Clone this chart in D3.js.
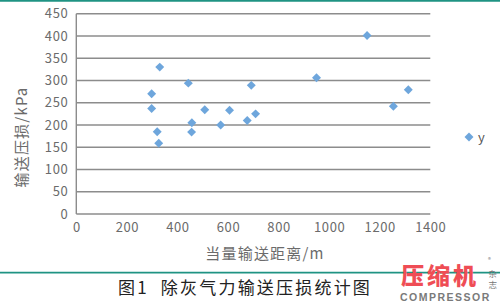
<!DOCTYPE html>
<html>
<head>
<meta charset="utf-8">
<script src="https://cdn.jsdelivr.net/npm/d3@7"></script>
<style>
  html, body { margin: 0; padding: 0; background: #fff; }
  svg { display: block; }
</style>
</head>
<body>
<svg id="chart" width="500" height="301"></svg>
<script>
// Equivalent conveying distance (m) and conveying pressure loss (kPa)
const distance = [330, 298, 298, 320, 326, 443, 457, 456, 508, 571, 606, 692, 676, 709, 950, 1150, 1254, 1313];
const pressureLoss = [330, 270, 237, 185, 159, 294, 205, 184, 234, 200, 233, 289, 210, 225, 306, 401, 242, 279];
const xTicks = [0, 200, 400, 600, 800, 1000, 1200, 1400];
const yTicks = [0, 50, 100, 150, 200, 250, 300, 350, 400, 450];
const seriesName = "y";

const svg = d3.select("#chart");
const plot = { left: 76.3, right: 430.3, top: 13.7, bottom: 214 };
const fontFam = "'Noto Sans CJK SC', 'Noto Sans', sans-serif";

const x = d3.scaleLinear().domain([0, 1400]).range([plot.left, plot.right]);
const y = d3.scaleLinear().domain([0, 450]).range([plot.bottom, plot.top]);

// frame rules (teal)
svg.append("line").attr("x1", 0).attr("x2", 500).attr("y1", 0.8).attr("y2", 0.8)
  .attr("stroke", "#1f9383").attr("stroke-width", 2);
svg.append("line").attr("x1", 0).attr("x2", 500).attr("y1", 272.6).attr("y2", 272.6)
  .attr("stroke", "#1f9383").attr("stroke-width", 1.6);

// horizontal gridlines
svg.append("g").selectAll("line").data(yTicks).join("line")
  .attr("x1", plot.left).attr("x2", plot.right)
  .attr("y1", d => y(d)).attr("y2", d => y(d))
  .attr("stroke", "#8c8c8c").attr("stroke-width", 1.4);

// y axis line
svg.append("line").attr("x1", plot.left).attr("x2", plot.left)
  .attr("y1", plot.top).attr("y2", plot.bottom)
  .attr("stroke", "#8c8c8c").attr("stroke-width", 1.4);

// y axis labels
const yAxis = d3.axisLeft(y).tickValues(yTicks).tickFormat(d3.format("d")).tickSize(0).tickPadding(8);
const gy = svg.append("g").attr("transform", `translate(${plot.left},0)`).call(yAxis);
gy.select(".domain").remove();
gy.selectAll("text").attr("font-family", fontFam).attr("font-size", 13)
  .attr("fill", "#6b6b6b").attr("letter-spacing", 0.6);

// x axis labels
const xAxis = d3.axisBottom(x).tickValues(xTicks).tickFormat(d3.format("d")).tickSize(0).tickPadding(9);
const gx = svg.append("g").attr("transform", `translate(0,${plot.bottom})`).call(xAxis);
gx.select(".domain").remove();
gx.selectAll("text").attr("font-family", fontFam).attr("font-size", 13)
  .attr("fill", "#6b6b6b").attr("letter-spacing", 0.6);

// axis titles
svg.append("text").attr("x", 265).attr("y", 259).attr("text-anchor", "middle")
  .attr("font-family", fontFam).attr("font-size", 15).attr("fill", "#6b6b6b")
  .attr("letter-spacing", 1.2).text("当量输送距离/m");
svg.append("text").attr("transform", "translate(27,137) rotate(-90)")
  .attr("text-anchor", "middle").attr("font-family", fontFam).attr("font-size", 15)
  .attr("fill", "#6b6b6b").attr("letter-spacing", 1.2).text("输送压损/kPa");

// data points (diamonds)
const diamond = d3.symbol().type(d3.symbolSquare).size(40);
const pts = distance.map((d, i) => ({ d, p: pressureLoss[i] }));
svg.append("g").selectAll("path").data(pts).join("path")
  .attr("d", diamond)
  .attr("transform", v => `translate(${x(v.d)},${y(v.p)}) rotate(45)`)
  .attr("fill", "#6ea6dc");

// legend
svg.append("path").attr("d", diamond).attr("transform", "translate(469,137) rotate(45)")
  .attr("fill", "#6ea6dc");
svg.append("text").attr("x", 478).attr("y", 142).attr("font-family", fontFam)
  .attr("font-size", 13).attr("fill", "#555").text(seriesName);

// caption
svg.append("text").attr("x", 118).attr("y", 294).attr("font-family", fontFam)
  .attr("font-size", 17).attr("fill", "#222").attr("letter-spacing", 2.2)
  .attr("xml:space", "preserve").text("图1  除灰气力输送压损统计图");

// publication mark
svg.append("text").attr("x", 401).attr("y", 284).attr("font-family", fontFam)
  .attr("font-size", 23).attr("font-weight", 900).attr("fill", "#ef4d55")
  .attr("letter-spacing", 3).text("压缩机");
svg.append("text").attr("x", 488).attr("y", 262).attr("font-family", fontFam)
  .attr("font-size", 6).attr("fill", "#777").text("®");
svg.append("text").attr("x", 488.5).attr("y", 277).attr("font-family", fontFam)
  .attr("font-size", 8.5).attr("fill", "#777").text("杂");
svg.append("text").attr("x", 488.5).attr("y", 288).attr("font-family", fontFam)
  .attr("font-size", 8.5).attr("fill", "#777").text("志");
svg.append("text").attr("x", 400).attr("y", 300.5).attr("font-family", "'Liberation Sans', Arial, sans-serif")
  .attr("font-size", 10.5).attr("font-weight", "bold").attr("fill", "#7a7a7a")
  .attr("letter-spacing", 1.5).text("COMPRESSOR");
</script>
</body>
</html>
